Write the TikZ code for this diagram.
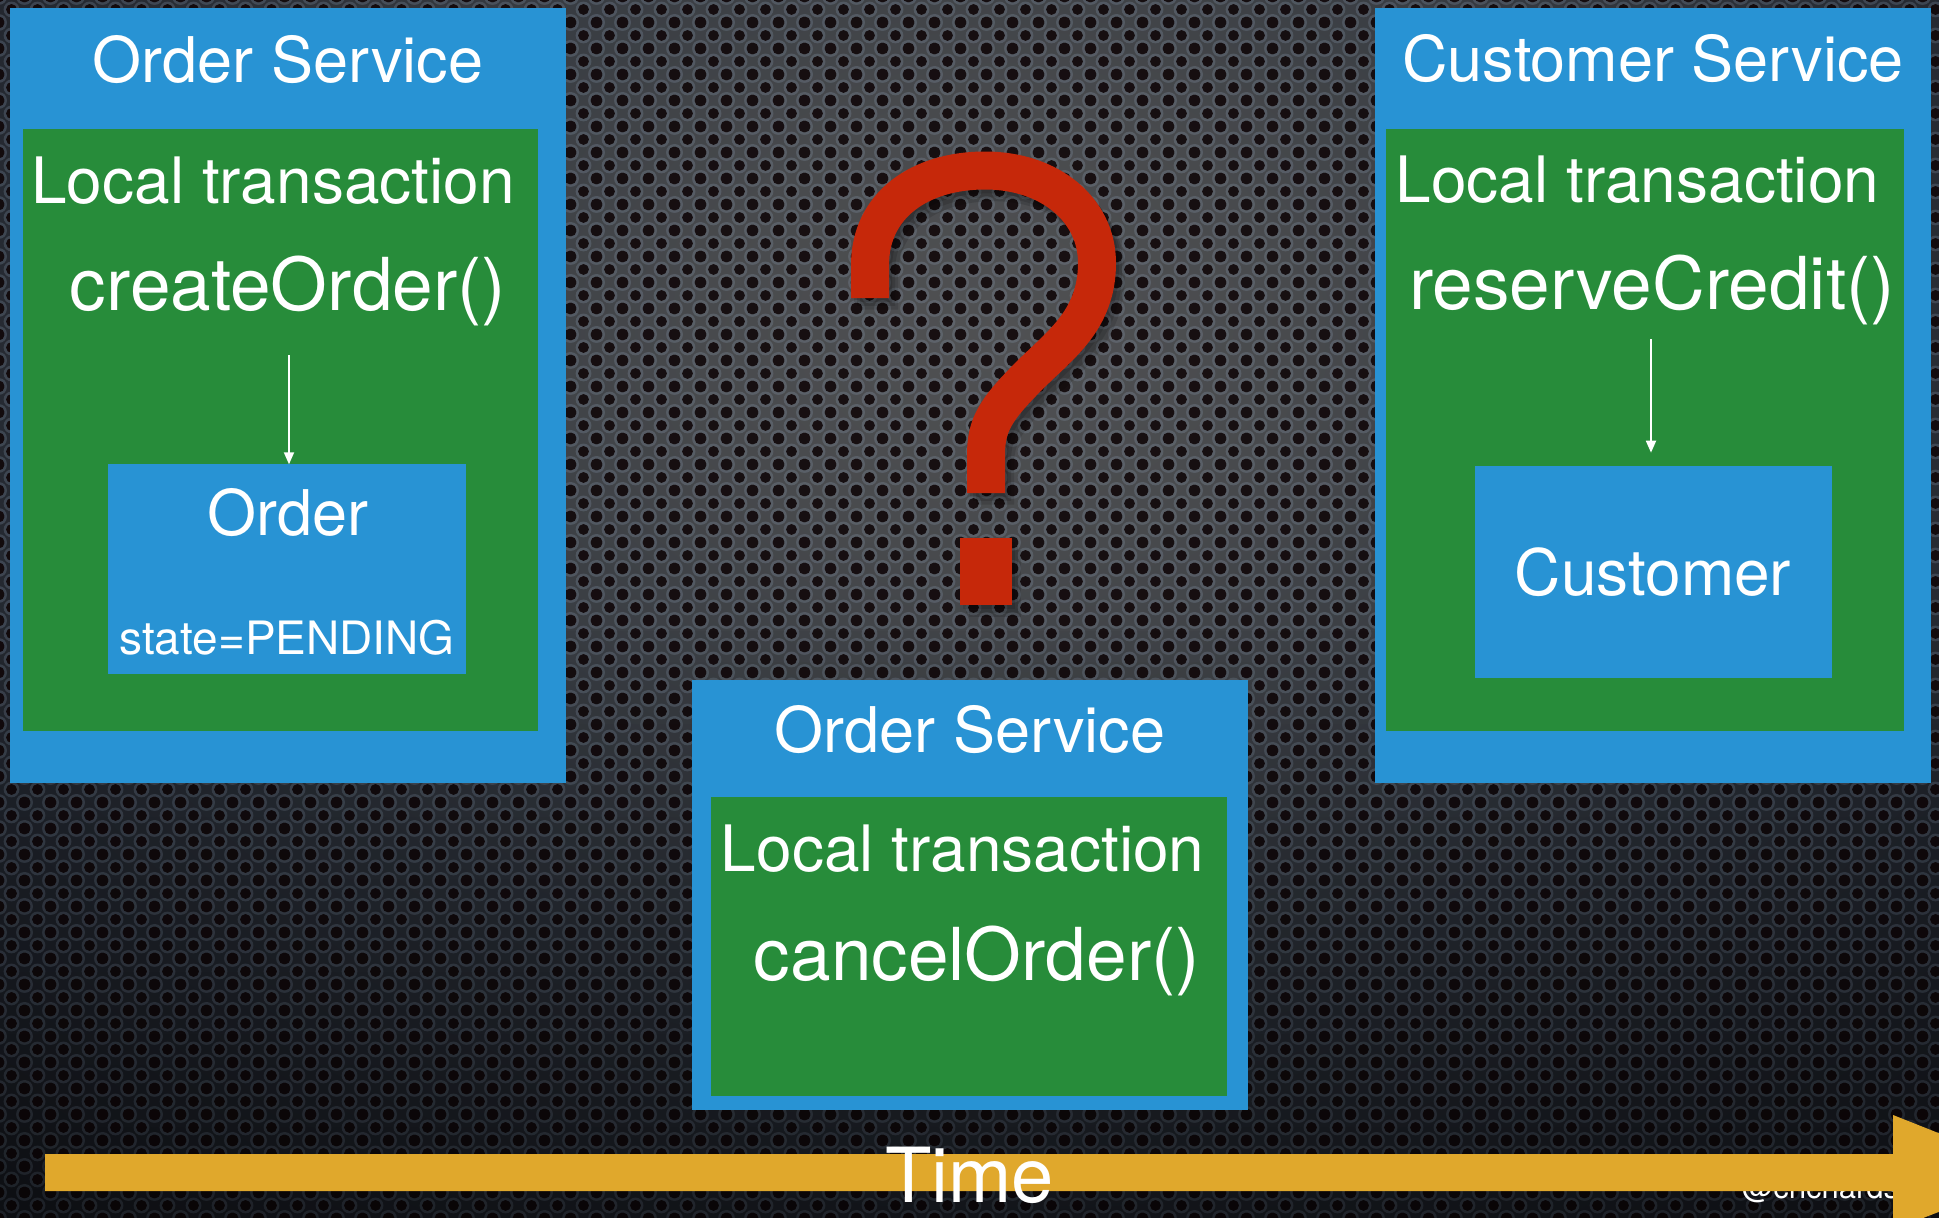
\documentclass[tikz,border=0pt]{standalone}
\usepackage{fontspec}
\setmainfont{TeX Gyre Heros}
\usetikzlibrary{arrows.meta,patterns}

% palette
\definecolor{svcblue}{RGB}{40,147,212}
\definecolor{txgreen}{RGB}{39,140,58}
\definecolor{qred}{RGB}{198,40,10}
\definecolor{timegold}{RGB}{224,168,44}
\definecolor{bgA}{RGB}{80,81,83}
\definecolor{bgB}{RGB}{72,74,77}
\definecolor{bgC}{RGB}{56,60,66}
\definecolor{bgD}{RGB}{41,46,54}
\definecolor{bgE}{RGB}{31,35,43}
\definecolor{bgF}{RGB}{24,27,34}
\definecolor{ringc}{RGB}{150,170,195}
\definecolor{holec}{RGB}{16,7,9}

% soft spotlight on the perforated metal backdrop
\pgfdeclareradialshading{spotlight}{\pgfpoint{0bp}{0bp}}{%
  color(0bp)=(bgA); color(3.9bp)=(bgB); color(7.9bp)=(bgC);
  color(11.8bp)=(bgD); color(15.7bp)=(bgE); color(19.7bp)=(bgF);
  color(25bp)=(bgF); color(50bp)=(bgF)}

% perforation: hexagonal grid of holes, each with a lighter rim
\pgfdeclarepatternformonly{perfrims}{\pgfqpoint{0pt}{0pt}}{\pgfqpoint{26pt}{26pt}}{\pgfqpoint{26pt}{26pt}}{%
  \pgfseteorule
  \pgfpathcircle{\pgfqpoint{13pt}{13pt}}{8.2pt}\pgfpathcircle{\pgfqpoint{13pt}{13pt}}{5.6pt}%
  \pgfpathcircle{\pgfqpoint{0pt}{0pt}}{8.2pt}\pgfpathcircle{\pgfqpoint{0pt}{0pt}}{5.6pt}%
  \pgfpathcircle{\pgfqpoint{26pt}{0pt}}{8.2pt}\pgfpathcircle{\pgfqpoint{26pt}{0pt}}{5.6pt}%
  \pgfpathcircle{\pgfqpoint{0pt}{26pt}}{8.2pt}\pgfpathcircle{\pgfqpoint{0pt}{26pt}}{5.6pt}%
  \pgfpathcircle{\pgfqpoint{26pt}{26pt}}{8.2pt}\pgfpathcircle{\pgfqpoint{26pt}{26pt}}{5.6pt}%
  \pgfusepath{fill}}
\pgfdeclarepatternformonly{perfholes}{\pgfqpoint{0pt}{0pt}}{\pgfqpoint{26pt}{26pt}}{\pgfqpoint{26pt}{26pt}}{%
  \pgfpathcircle{\pgfqpoint{13pt}{13pt}}{5.6pt}%
  \pgfpathcircle{\pgfqpoint{0pt}{0pt}}{5.6pt}%
  \pgfpathcircle{\pgfqpoint{26pt}{0pt}}{5.6pt}%
  \pgfpathcircle{\pgfqpoint{0pt}{26pt}}{5.6pt}%
  \pgfpathcircle{\pgfqpoint{26pt}{26pt}}{5.6pt}%
  \pgfusepath{fill}}

\tikzset{
  panel/.style={rectangle, inner sep=0pt, outer sep=0pt},
  svcbox/.style={panel, fill=svcblue},
  txbox/.style={panel, fill=txgreen},
  objbox/.style={panel, fill=svcblue},
  lbl/.style={text=white, inner sep=0pt, outer sep=0pt, anchor=base},
  title/.style={lbl, font=\fontsize{63pt}{70pt}\selectfont},
  txlbl/.style={lbl, font=\fontsize{64pt}{70pt}\selectfont},
  call/.style={lbl, font=\fontsize{73pt}{80pt}\selectfont},
  flow/.style={draw=white, line width=1.8pt, -{Triangle[length=12pt,width=10pt]}},
  qstroke/.style={line width=38pt, line cap=butt, line join=miter},
}

\begin{document}
\begin{tikzpicture}[x=1pt,y=-1pt]
\useasboundingbox (0,0) rectangle (1939,1218);

\begin{scope}
\clip (0,0) rectangle (1939,1218);

% backdrop
\fill[bgF] (0,0) rectangle (1939,1218);
\shade[shading=spotlight] (1000,330) ellipse [x radius=1900, y radius=1450];
\fill[pattern=perfrims, pattern color=ringc, fill opacity=0.22] (0,0) rectangle (1939,1218);
\fill[pattern=perfholes, pattern color=holec, fill opacity=0.88] (0,0) rectangle (1939,1218);
% darker towards the bottom edge
\foreach \k in {0,...,19}{
  \fill[black, fill opacity={0.022*\k}] (0,{600+31*\k}) rectangle (1939,{631+31*\k});
}

% Order Service (left)
\node[svcbox, minimum width=556pt, minimum height=775pt] (osvc) at (287.6,395.4) {};
\node[txbox, minimum width=515pt, minimum height=602pt] (otx) at (280.4,429.6) {};
\node[objbox, minimum width=358pt, minimum height=210pt] (oobj) at (286.9,569.3) {};
\node[title] (osvct) at (288,82) {Order Service};
\node[txlbl] (otxt) at (273,203) {Local transaction};
\node[call] (ocall) at (288,310) {createOrder()};
\node[title] (oobjt) at (288,535) {Order};
\node[lbl, font=\fontsize{46pt}{50pt}\selectfont] (ostate) at (287,654) {state=PENDING};
\coordinate (ofrom) at (289,355);
\draw[flow] (ofrom) -- (ofrom |- oobj.north);

% Customer Service (right)
\node[svcbox, minimum width=556pt, minimum height=775pt] (csvc) at (1652.5,395.4) {};
\node[txbox, minimum width=518pt, minimum height=602pt] (ctx) at (1645.2,429.6) {};
\node[objbox, minimum width=357pt, minimum height=212pt] (cobj) at (1653,571.7) {};
\node[title] (csvct) at (1653,81) {Customer Service};
\node[txlbl] (ctxt) at (1637.5,202) {Local transaction};
\node[call] (ccall) at (1652,309) {reserveCredit()};
\node[title, font=\fontsize{64pt}{70pt}\selectfont] (cobjt) at (1653,595) {Customer};
\coordinate (cfrom) at (1651,339);
\draw[flow, shorten >=13pt] (cfrom) -- (cfrom |- cobj.north);

% Order Service (compensation)
\node[svcbox, minimum width=556pt, minimum height=430pt] (msvc) at (969.5,895) {};
\node[txbox, minimum width=516pt, minimum height=299pt] (mtx) at (968.6,946.4) {};
\node[title] (msvct) at (970,752) {Order Service};
\node[txlbl] (mtxt) at (962.6,871) {Local transaction};
\node[call] (mcall) at (977,980) {cancelOrder()};

% question mark with a soft drop shadow
\foreach \s in {3,6,9}{
  \begin{scope}[shift={(\s,{1.3*\s})}, opacity=0.12]
    \draw[black, qstroke]
      (870,298) -- (870,265) .. controls (870,205) and (920,170.5) .. (985,170.5)
      .. controls (1050,170.5) and (1097,210) .. (1097,263)
      .. controls (1097,320) and (1060,345) .. (1030,375)
      .. controls (995,410) and (986,425) .. (986,455) -- (986,493);
    \fill[black] (960,538) rectangle (1012,605);
  \end{scope}
}
\draw[qred, qstroke]
  (870,298) -- (870,265) .. controls (870,205) and (920,170.5) .. (985,170.5)
  .. controls (1050,170.5) and (1097,210) .. (1097,263)
  .. controls (1097,320) and (1060,345) .. (1030,375)
  .. controls (995,410) and (986,425) .. (986,455) -- (986,493);
\fill[qred] (960,538) rectangle (1012,605);

% handle, partly under the time line
\node[lbl, anchor=base west, font=\fontsize{31pt}{34pt}\selectfont] (handle) at (1742,1198) {@crichardson};

% time line
\fill[timegold] (45,1154) -- (1893,1154) -- (1893,1115) -- (2038,1172.5)
  -- (1893,1230) -- (1893,1191) -- (45,1191) -- cycle;
\node[lbl, font=\fontsize{76pt}{80pt}\selectfont] (time) at (969.5,1202) {Time};
\end{scope}
\end{tikzpicture}
\end{document}
